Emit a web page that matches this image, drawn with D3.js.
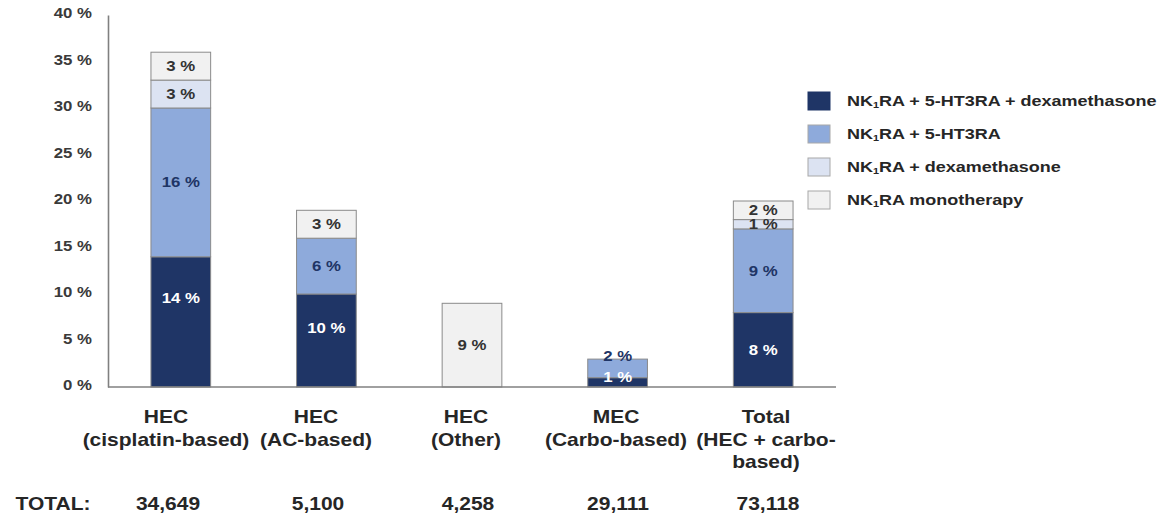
<!DOCTYPE html>
<html>
<head>
<meta charset="utf-8">
<script src="https://cdn.jsdelivr.net/npm/d3@7"></script>
<style>
  html, body { margin: 0; padding: 0; background: #ffffff; }
  svg { display: block; font-family: "Liberation Sans", Arial, sans-serif; font-weight: bold; }
</style>
</head>
<body>
<svg id="chart" width="1163" height="515"></svg>
<script>
// ---- data ----
const categories = ["cisplatin", "ac", "other", "mec", "total"];
const categoryLines = [
  ["HEC", "(cisplatin-based)"],
  ["HEC", "(AC-based)"],
  ["HEC", "(Other)"],
  ["MEC", "(Carbo-based)"],
  ["Total", "(HEC + carbo-", "based)"]
];
const patientTotals = ["34,649", "5,100", "4,258", "29,111", "73,118"];
const totalHeading = "TOTAL:";

const seriesKeys = ["triple", "dual", "dex", "mono"];
const seriesLabels = [
  "NK₁RA + 5-HT3RA + dexamethasone",
  "NK₁RA + 5-HT3RA",
  "NK₁RA + dexamethasone",
  "NK₁RA monotherapy"
];
// share of patients (%) per regimen, one value per category
const tripleValues = [14, 10, 0, 1, 8];
const dualValues   = [16, 6, 0, 2, 9];
const dexValues    = [3, 0, 0, 0, 1];
const monoValues   = [3, 3, 9, 0, 2];

const yTicks = [0, 5, 10, 15, 20, 25, 30, 35, 40];

// ---- styling ----
const colors = ["#1f3566", "#8eaadb", "#dce3f2", "#f1f1f1"];
const valueTextColors = ["#ffffff", "#1f3566", "#333333", "#333333"];
const outline = "#8a8a8a";
const axisColor = "#808080";
const stretchX = 1.2; // slightly widened lettering

// vertical tweaks for a few value labels (series index | category index)
const labelNudge = { "0|0": -24, "0|1": -12, "0|3": -5, "1|3": -12 };

const svg = d3.select("#chart");

const table = categories.map((c, i) => ({
  category: c,
  triple: tripleValues[i],
  dual: dualValues[i],
  dex: dexValues[i],
  mono: monoValues[i]
}));

const stacked = d3.stack().keys(seriesKeys)(table);

const x = d3.scaleBand()
  .domain(categories)
  .range([108, 836])
  .paddingInner(0.59)
  .paddingOuter(0.295);

const labelX = d3.scalePoint()
  .domain(categories)
  .range([166, 766]);

const y = d3.scaleLinear().domain([0, 40]).range([387, 15]);

// text helper: places a horizontally widened label
function addText(parent, px, py, str, opts) {
  const t = parent.append("text")
    .attr("transform", `translate(${px},${py}) scale(${stretchX},1)`)
    .attr("text-anchor", opts.anchor || "middle")
    .attr("font-size", opts.size)
    .attr("fill", opts.fill || "#262626");
  if (opts.dy) t.attr("dy", opts.dy);
  return t.text(str);
}

// ---- y axis ----
const yAxis = svg.append("g")
  .attr("transform", "translate(108,0)")
  .call(d3.axisLeft(y).tickValues(yTicks).tickSize(0).tickSizeOuter(0)
    .tickFormat(d => d + " %"));
yAxis.select(".domain").attr("stroke", axisColor).attr("stroke-width", 1.6);
yAxis.selectAll(".tick text")
  .attr("x", null)
  .attr("dy", "0.35em")
  .attr("transform", `translate(-16,-2) scale(${stretchX},1)`)
  .attr("font-family", null)
  .attr("font-size", 14)
  .attr("fill", "#3a3a3a");

// ---- bars ----
const layers = svg.append("g").selectAll("g.layer")
  .data(stacked)
  .join("g")
  .attr("class", "layer");

layers.each(function (layer, si) {
  d3.select(this).selectAll("rect")
    .data(layer.filter(d => d[1] - d[0] > 0))
    .join("rect")
    .attr("x", d => x(d.data.category))
    .attr("width", x.bandwidth())
    .attr("y", d => y(d[1]))
    .attr("height", d => y(d[0]) - y(d[1]))
    .attr("fill", colors[si])
    .attr("stroke", outline)
    .attr("stroke-width", 1);
});

// ---- value labels ----
const valueLayer = svg.append("g");
stacked.forEach((layer, si) => {
  layer.forEach((d, ci) => {
    const v = d[1] - d[0];
    if (v <= 0) return;
    const cx = x(d.data.category) + x.bandwidth() / 2;
    const cy = (y(d[0]) + y(d[1])) / 2 + (labelNudge[si + "|" + ci] || 0);
    addText(valueLayer, cx, cy, v + " %", {
      size: 14, fill: valueTextColors[si], dy: "0.35em"
    });
  });
});

// ---- x baseline ----
svg.append("line")
  .attr("x1", 108).attr("x2", 836)
  .attr("y1", y(0)).attr("y2", y(0))
  .attr("stroke", axisColor).attr("stroke-width", 1.6);

// ---- category labels ----
const catLayer = svg.append("g");
const lineBaselines = [423, 446, 468];
categories.forEach((c, i) => {
  categoryLines[i].forEach((line, li) => {
    addText(catLayer, labelX(c), lineBaselines[li], line, { size: 17.5 });
  });
});

// ---- patient totals row ----
const totalsLayer = svg.append("g");
addText(totalsLayer, 53, 510, totalHeading, { size: 17.5 });
categories.forEach((c, i) => {
  addText(totalsLayer, labelX(c) + 2, 510, patientTotals[i], { size: 17.5 });
});

// ---- legend ----
const legend = svg.append("g");
const legendRowY = [101, 134, 167, 200];
seriesLabels.forEach((label, i) => {
  legend.append("rect")
    .attr("x", 808).attr("y", legendRowY[i] - 9)
    .attr("width", 22).attr("height", 18)
    .attr("fill", colors[i])
    .attr("stroke", i === 0 ? "#1f3566" : "#a8a8a8")
    .attr("stroke-width", 1);
  const t = legend.append("text")
    .attr("transform", `translate(847,${legendRowY[i]}) scale(${stretchX},1)`)
    .attr("dy", "0.36em")
    .attr("font-size", 15)
    .attr("fill", "#262626");
  const parts = label.split("₁");
  t.append("tspan").text(parts[0]);
  t.append("tspan").attr("font-size", 9).attr("dy", 2).text("1");
  t.append("tspan").attr("dy", -2).text(parts[1]);
});
</script>
</body>
</html>
